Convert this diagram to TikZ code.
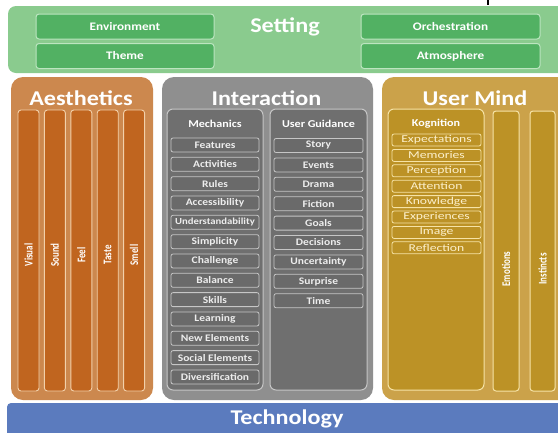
\documentclass[tikz,border=0pt]{standalone}
\usepackage{fontspec}
\setmainfont{Carlito}[FakeStretch=1.15]
\newfontfamily\plainfont{Carlito}
\newfontfamily\widefont{Carlito}[FakeStretch=1.3]
\definecolor{setOut}{HTML}{8ACB8E}
\definecolor{setIn}{HTML}{52B163}
\definecolor{setLine}{HTML}{BCE5C0}
\definecolor{aesOut}{HTML}{CC884E}
\definecolor{aesIn}{HTML}{C0651F}
\definecolor{aesLine}{HTML}{F2D0AA}
\definecolor{intOut}{HTML}{8F8F8F}
\definecolor{intIn}{HTML}{6F6F6F}
\definecolor{intItem}{HTML}{6A6A6A}
\definecolor{intLine}{HTML}{C6C6C6}
\definecolor{intText}{HTML}{EDEDED}
\definecolor{umOut}{HTML}{CBA24A}
\definecolor{umIn}{HTML}{BC9226}
\definecolor{umLine}{HTML}{F6E3A6}
\definecolor{umText}{HTML}{FCF0CC}
\definecolor{techFill}{HTML}{5B7BBE}
\newcommand{\vtxt}[1]{\scalebox{1}[1.3]{#1}}
\tikzset{
  titletext/.style={text=white, inner sep=0pt, font=\fontsize{21}{24}\selectfont\bfseries},
  setbox/.style={draw=setLine, line width=1pt, fill=setIn, rounded corners=3pt,
    minimum width=178pt, minimum height=25pt, inner sep=0pt, text=white,
    font=\fontsize{11.5}{12}\selectfont\bfseries},
  aescol/.style={draw=aesLine, line width=0.9pt, fill=aesIn, rounded corners=3pt,
    minimum width=21pt, minimum height=281pt, inner sep=0pt},
  vlabel/.style={rotate=90, text=white, inner sep=0pt, font=\plainfont\fontsize{9}{10}\selectfont\bfseries},
  intpanel/.style={draw=intLine, line width=1pt, fill=intIn, rounded corners=6pt,
    minimum width=96pt, minimum height=281pt, inner sep=0pt},
  head/.style={text=white, inner sep=0pt, font=\fontsize{10.5}{12}\selectfont\bfseries},
  mitem/.style={draw=intLine, line width=0.8pt, fill=intItem, rounded corners=2pt,
    minimum width=88pt, minimum height=14pt, inner sep=0pt, text=intText,
    font=\fontsize{10}{11}\selectfont\bfseries},
  umpanel/.style={draw=umLine, line width=1pt, fill=umIn, rounded corners=6pt,
    minimum width=96pt, minimum height=281pt, inner sep=0pt},
  umcol/.style={draw=umLine, line width=1pt, fill=umIn, rounded corners=3pt,
    minimum width=26pt, minimum height=280pt, inner sep=0pt},
  kitem/.style={draw=umLine, line width=0.8pt, fill=umIn, rounded corners=2pt,
    minimum width=89pt, minimum height=12pt, inner sep=0pt, text=umText,
    font=\widefont\fontsize{10.5}{11}\selectfont},
}
\begin{document}
\begin{tikzpicture}[x=1pt,y=-1pt]
\clip (0,0) rectangle (558,432);
\fill[white] (0,0) rectangle (558,432);
% tiny mark at the top edge
\draw[black, line width=1.2pt] (488,0) -- (488,5);
% ---------- Setting ----------
\fill[setOut, rounded corners=8pt] (8,6) rectangle (580,73);
\node[titletext] (setting) at (285,27) {Setting};
\node[setbox] (env) at (125,26.5) {Environment};
\node[setbox] (theme) at (125,56) {Theme};
\node[setbox, minimum width=179pt] (orch) at (450.5,26.5) {Orchestration};
\node[setbox, minimum width=179pt] (atmo) at (450.5,56) {Atmosphere};
% ---------- Aesthetics ----------
\fill[aesOut, rounded corners=12pt] (11,77) rectangle (153,400);
\node[titletext] (aes) at (81,98) {Aesthetics};
\foreach \i/\t in {0/Visual,1/Sound,2/Feel,3/Taste,4/Smell}{
  \node[aescol] (ac\i) at (28.5+26.4*\i,250.5) {};
  \node[vlabel] (al\i) at (28.5+26.4*\i,255) {\vtxt{\t}};
}
% ---------- Interaction ----------
\fill[intOut, rounded corners=12pt] (162,77) rectangle (373,400);
\node[titletext] (inter) at (266.5,98) {Interaction};
\node[intpanel] (mech) at (215,249.5) {};
\node[intpanel, minimum width=97pt] (guid) at (318.5,249.5) {};
\node[head] (mechh) at (215,124) {Mechanics};
\node[head] (guidh) at (318.5,124) {User Guidance};
\foreach \i/\t in {0/Features,1/Activities,2/Rules,3/Accessibility,
  4/{\fontsize{9.3}{10}\selectfont Understandability},5/Simplicity,6/Challenge,7/Balance,
  8/Skills,9/Learning,10/New Elements,11/Social Elements,12/Diversification}{
  \node[mitem] (m\i) at (215,145+19.33*\i) {\t};
}
\foreach \i/\t in {0/Story,1/Events,2/Drama,3/Fiction,4/Goals,5/Decisions,
  6/Uncertainty,7/Surprise,8/Time}{
  \node[mitem, minimum width=89pt] (g\i) at (318.5,145.5+19.4*\i) {\t};
}
% ---------- User Mind ----------
\fill[umOut, rounded corners=12pt] (382,77) rectangle (590,400);
\node[titletext] (um) at (475,98) {User Mind};
\node[umpanel] (kog) at (436,249.5) {};
\node[head] (kogh) at (436,124) {Kognition};
\foreach \i/\t in {0/Expectations,1/Memories,2/Perception,3/Attention,
  4/Knowledge,5/Experiences,6/Image,7/Reflection}{
  \node[kitem] (k\i) at (436.5,140+15.4*\i) {\t};
}
\node[umcol] (emo) at (506,251) {};
\node[umcol, minimum width=25pt] (ins) at (542.5,251) {};
\node[vlabel] (emol) at (506,269) {\vtxt{Emotions}};
\node[vlabel] (insl) at (542.5,269) {\vtxt{Instincts}};
% ---------- Technology ----------
\fill[techFill, rounded corners=4pt] (7,403) rectangle (600,460);
\node[titletext] (tech) at (287,419) {Technology};
\end{tikzpicture}
\end{document}
